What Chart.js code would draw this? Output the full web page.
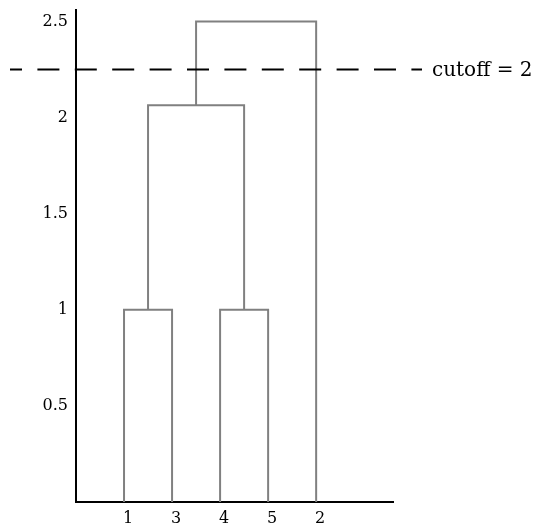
<!DOCTYPE html>
<html>
<head>
<meta charset="utf-8">
<script src="https://cdn.jsdelivr.net/npm/chart.js@4/dist/chart.umd.min.js"></script>
<style>
  html, body { margin: 0; padding: 0; background: #fff; }
  canvas { display: block; }
</style>
</head>
<body>
<canvas id="c" width="535" height="524"></canvas>
<script>
// ---- data ----
const leafLabels = ['1', '3', '4', '5', '2'];
const leafPositions = [1, 2, 3, 4, 5];
const linkLeftX = [1, 3, 1.5, 2.5];
const linkRightX = [2, 4, 3.5, 5];
const linkHeights = [1.0, 1.0, 2.065, 2.5];
const linkLeftBase = [0, 0, 1.0, 2.065];
const linkRightBase = [0, 0, 1.0, 0];
const yTickValues = [0.5, 1, 1.5, 2, 2.5];
const yTickLabels = ['0.5', '1', '1.5', '2', '2.5'];
const cutoffValue = 2.25;
const cutoffLabel = 'cutoff = 2';

const FONT = 'DejaVu Serif';

const datasets = linkHeights.map((h, i) => ({
  data: [
    { x: linkLeftX[i], y: linkLeftBase[i] },
    { x: linkLeftX[i], y: h },
    { x: linkRightX[i], y: h },
    { x: linkRightX[i], y: linkRightBase[i] }
  ],
  showLine: true,
  borderColor: '#808080',
  borderWidth: 2,
  pointRadius: 0,
  pointHoverRadius: 0,
  tension: 0,
  fill: false,
  borderCapStyle: 'butt',
  borderJoinStyle: 'miter'
}));

const cutoffPlugin = {
  id: 'cutoff',
  afterDatasetsDraw(chart) {
    const ctx = chart.ctx;
    const y = chart.scales.y.getPixelForValue(cutoffValue);
    const left = chart.chartArea.left - 66;
    const right = chart.chartArea.right + 29;
    ctx.save();
    ctx.strokeStyle = '#000';
    ctx.lineWidth = 2;
    ctx.setLineDash([22, 15.4]);
    ctx.lineDashOffset = 10;
    ctx.beginPath();
    ctx.moveTo(left, y);
    ctx.lineTo(right, y);
    ctx.stroke();
    ctx.setLineDash([]);
    ctx.fillStyle = '#000';
    ctx.font = '20px "' + FONT + '"';
    ctx.textBaseline = 'alphabetic';
    ctx.textAlign = 'left';
    ctx.fillText(cutoffLabel, right + 10, y + 6);
    ctx.restore();
  }
};

new Chart(document.getElementById('c'), {
  type: 'scatter',
  data: { datasets },
  plugins: [cutoffPlugin],
  options: {
    responsive: false,
    animation: false,
    devicePixelRatio: 1,
    layout: { padding: { top: 10, right: 142, left: 0, bottom: 0 } },
    plugins: { legend: { display: false }, tooltip: { enabled: false } },
    scales: {
      x: {
        type: 'linear',
        min: 0,
        max: 6.6,
        grid: { display: false, drawTicks: false },
        border: { display: true, color: '#000', width: 2 },
        afterBuildTicks: (s) => { s.ticks = leafPositions.map(v => ({ value: v })); },
        afterFit: (s) => { s.height = 22; s.paddingLeft = 0; s.paddingRight = 0; },
        ticks: {
          padding: 7,
          labelOffset: 4,
          maxRotation: 0,
          autoSkip: false,
          color: '#000',
          font: { family: FONT, size: 16 },
          callback: (v) => leafLabels[leafPositions.indexOf(v)]
        }
      },
      y: {
        type: 'linear',
        min: 0,
        max: 2.56,
        grid: { display: false, drawTicks: false },
        border: { display: true, color: '#000', width: 2 },
        afterBuildTicks: (s) => { s.ticks = yTickValues.map(v => ({ value: v })); },
        afterFit: (s) => { s.width = 76; s.paddingTop = 0; s.paddingBottom = 0; },
        ticks: {
          padding: 8,
          autoSkip: false,
          color: '#000',
          font: { family: FONT, size: 16 },
          callback: (v) => yTickLabels[yTickValues.indexOf(v)]
        }
      }
    }
  }
});
</script>
</body>
</html>
